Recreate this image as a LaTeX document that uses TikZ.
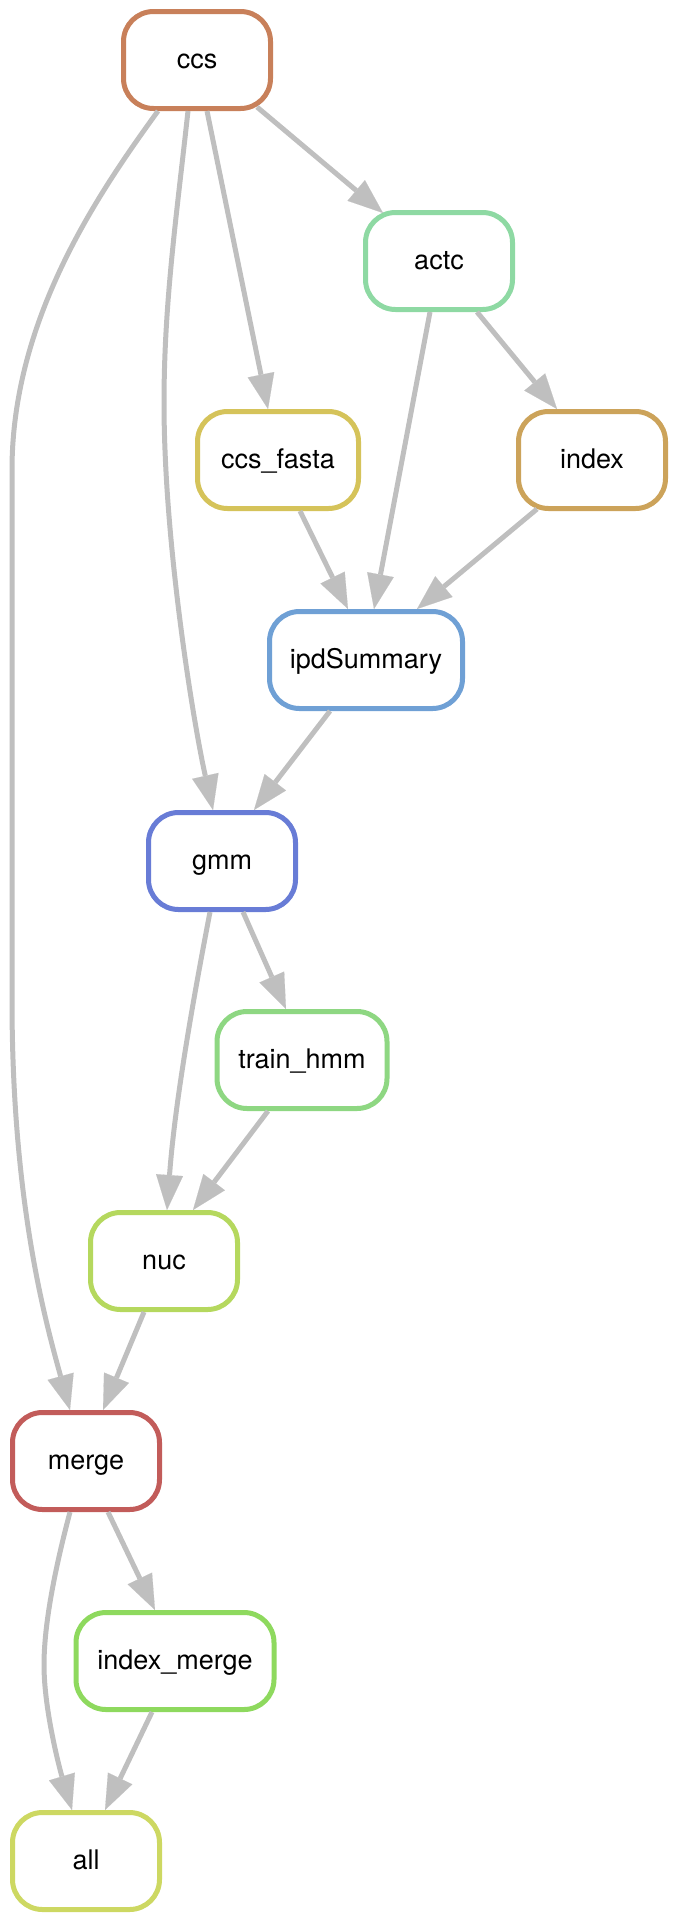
\documentclass[tikz,border=0pt]{standalone}
\usepackage{fontspec}
\setmainfont{TeX Gyre Heros}
\usetikzlibrary{arrows.meta}
\definecolor{cccs}{HTML}{C8805A}
\definecolor{cactc}{HTML}{8ED9A3}
\definecolor{cfasta}{HTML}{D5C35A}
\definecolor{cindex}{HTML}{CCA35A}
\definecolor{cipd}{HTML}{6FA0D5}
\definecolor{cgmm}{HTML}{687CD6}
\definecolor{ctrain}{HTML}{8ED782}
\definecolor{cnuc}{HTML}{B5D85E}
\definecolor{cmerge}{HTML}{C25C5A}
\definecolor{cimerge}{HTML}{8ED95E}
\definecolor{call}{HTML}{CDD862}
\definecolor{edgegrey}{HTML}{BFBFBF}
\begin{document}
\begin{tikzpicture}[x=1pt,y=-1pt,
  rule/.style={draw, line width=5pt, rounded corners=30pt, fill=white,
    minimum height=97pt, minimum width=147pt, inner sep=0pt,
    font=\fontsize{27}{32}\selectfont, text height=19pt, text depth=2pt},
  conn/.style={draw=edgegrey, line width=5pt,
    -{Triangle[length=35pt,width=27pt,line width=0.1pt]}}]
\useasboundingbox (0,0) rectangle (677,1922);

\node[rule, draw=cccs] (ccs) at (197,60) {ccs};
\node[rule, draw=cactc] (actc) at (439,261) {actc};
\node[rule, draw=cfasta, minimum width=161pt] (fasta) at (278,460) {ccs\_fasta};
\node[rule, draw=cindex] (index) at (592,460) {index};
\node[rule, draw=cipd, minimum width=193pt] (ipd) at (366,660) {ipdSummary};
\node[rule, draw=cgmm] (gmm) at (222,861) {gmm};
\node[rule, draw=ctrain, minimum width=170pt] (train) at (302,1060) {train\_hmm};
\node[rule, draw=cnuc] (nuc) at (164,1261) {nuc};
\node[rule, draw=cmerge] (merge) at (86,1461) {merge};
\node[rule, draw=cimerge, minimum width=198pt] (imerge) at (175,1661) {index\_merge};
\node[rule, draw=call] (all) at (86,1861) {all};

% ccs -> merge
\draw[conn] ([xshift=-39pt]ccs.south) .. controls (97,195) and (12,320) .. (12,470)
  -- (12,1000) .. controls (12,1200) and (45,1320) .. ([xshift=-16pt]merge.north);
% ccs -> gmm
\draw[conn] ([xshift=-9pt]ccs.south) .. controls (175,230) and (160,330) .. (165,450)
  .. controls (170,580) and (195,730) .. ([xshift=-9pt]gmm.north);
% ccs -> ccs_fasta
\draw[conn] ([xshift=10pt]ccs.south) -- ([xshift=-10pt]fasta.north);
% ccs -> actc
\draw[conn] ([xshift=60pt,yshift=4pt]ccs.south) -- ([xshift=-56pt,yshift=-3pt]actc.north);
% actc -> ipdSummary
\draw[conn] ([xshift=-9pt]actc.south) -- ([xshift=8pt]ipd.north);
% actc -> index
\draw[conn] ([xshift=38pt]actc.south) -- ([xshift=-35pt]index.north);
% ccs_fasta -> ipdSummary
\draw[conn] ([xshift=22pt]fasta.south) -- ([xshift=-18pt]ipd.north);
% index -> ipdSummary
\draw[conn] ([xshift=-55pt,yshift=2pt]index.south) -- ([xshift=51pt]ipd.north);
% ipdSummary -> gmm
\draw[conn] ([xshift=-36pt]ipd.south) -- ([xshift=32pt]gmm.north);
% gmm -> train_hmm
\draw[conn] ([xshift=21pt]gmm.south) -- ([xshift=-16pt]train.north);
% gmm -> nuc
\draw[conn] ([xshift=-12pt]gmm.south) .. controls (195,990) and (175,1100) .. ([xshift=3pt]nuc.north);
% train_hmm -> nuc
\draw[conn] ([xshift=-34pt]train.south) -- ([xshift=29pt]nuc.north);
% nuc -> merge
\draw[conn] ([xshift=-20pt]nuc.south) -- ([xshift=17pt]merge.north);
% merge -> index_merge
\draw[conn] ([xshift=22pt]merge.south) -- ([xshift=-20pt]imerge.north);
% merge -> all
\draw[conn] ([xshift=-16pt]merge.south) .. controls (52,1580) and (44,1630) .. (44,1665)
  .. controls (44,1710) and (60,1770) .. ([xshift=-14pt]all.north);
% index_merge -> all
\draw[conn] ([xshift=-23pt]imerge.south) -- ([xshift=19pt]all.north);
\end{tikzpicture}
\end{document}
